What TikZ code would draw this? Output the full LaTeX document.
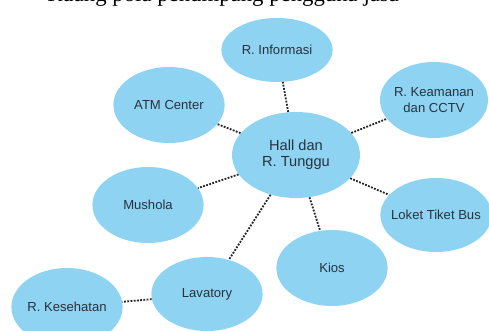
\documentclass[tikz,border=0pt]{standalone}
\usepackage{fontspec}
\setmainfont{Liberation Serif}
\setsansfont{Liberation Sans}
\usetikzlibrary{shapes.geometric}
\definecolor{roomblue}{RGB}{142,211,242}
\definecolor{roomtext}{RGB}{40,50,62}

\begin{document}
\begin{tikzpicture}[room/.style={ellipse, fill=roomblue, inner sep=0pt, minimum width=2.78cm, minimum height=1.9cm,
      label={[text=roomtext, font=\sffamily\fontsize{9.3}{10.8}\selectfont, align=center]center:#1}},
    hall/.style={ellipse, fill=roomblue, inner sep=0pt, minimum width=3.2cm, minimum height=2.15cm,
      label={[text=roomtext, font=\sffamily\fontsize{10.4}{11.2}\selectfont, align=center]center:#1}},
    link/.style={densely dotted, line width=1.3pt, black!85}]

\useasboundingbox (0,0) rectangle (12.225,8.275);
\clip (0,0) rectangle (12.225,8.275);

% cut-off caption line at the top
\node[anchor=base west, inner sep=0pt, font=\fontsize{16.2}{18}\selectfont] (caption) at (1.175,8.24) {Ruang pola penumpang pengguna jasa};

\node[room={R. Informasi}, minimum height=1.6cm] (info) at (6.925,7.025) {};
\node[room={ATM Center}] (atm) at (4.225,5.65) {};
\node[room={R. Keamanan\\dan CCTV}, minimum width=2.7cm] (cctv) at (10.85,5.775) {};
\node[hall={Hall dan\\R. Tunggu}] (hall) at (7.4,4.4) {};
\node[room={Mushola}] (mushola) at (3.7,3.15) {};
\node[room={Loket Tiket Bus}, minimum height=1.85cm] (loket) at (10.9,2.9) {};
\node[room={Kios}] (kios) at (8.3,1.575) {};
\node[room={Lavatory}, minimum height=1.85cm] (lavatory) at (5.175,0.925) {};
\node[room={R. Kesehatan}, minimum height=1.95cm] (kesehatan) at (1.675,0.6) {};

\draw[link] (hall) -- (info) (hall) -- (atm) (hall) -- (cctv) (hall) -- (mushola)
      (hall) -- (loket) (hall) -- (kios) (hall) -- (lavatory);
\draw[link] (lavatory) -- (kesehatan);
\end{tikzpicture}
\end{document}
